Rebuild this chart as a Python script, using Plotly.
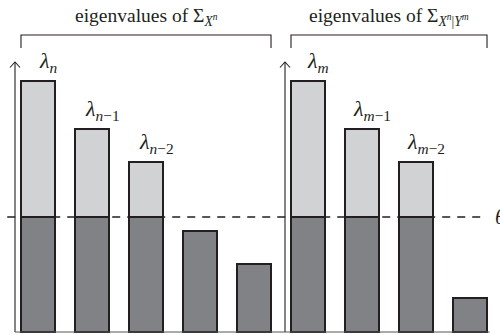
import plotly.graph_objects as go

# Eigenvalues (arbitrary units) of the two covariance matrices
theta = 11.5
left_vals = [25.1, 20.3, 17.0, 10.1, 6.8]
right_vals = [25.1, 20.3, 17.0, 3.4]
left_labels = ["<i>λ</i><sub><i>n</i></sub>",
               "<i>λ</i><sub><i>n</i>−1</sub>",
               "<i>λ</i><sub><i>n</i>−2</sub>"]
right_labels = ["<i>λ</i><sub><i>m</i></sub>",
                "<i>λ</i><sub><i>m</i>−1</sub>",
                "<i>λ</i><sub><i>m</i>−2</sub>"]
group_titles = ["eigenvalues of Σ<sub><i>X<sup>n</sup></i></sub>",
                "eigenvalues of Σ<sub><i>X<sup>n</sup></i>|<i>Y<sup>m</sup></i></sub>"]

values = left_vals + right_vals
slots = list(range(len(values)))
left_slots = slots[:len(left_vals)]
right_slots = slots[len(left_vals):]

LIGHT = "#d1d2d4"
DARK = "#808285"
INK = "#231f20"
FONT = "Liberation Serif"
BW = 0.63          # bar width in slot units
GAP = 0.111        # distance from axis to first bar

below = [min(v, theta) for v in values]
above = [v - theta if v > theta else None for v in values]

fig = go.Figure()
fig.add_trace(go.Bar(x=slots, y=below, width=BW,
                     marker=dict(color=DARK, line=dict(color=INK, width=1.3)),
                     showlegend=False, hoverinfo="skip"))
fig.add_trace(go.Bar(x=slots, y=above, width=BW,
                     marker=dict(color=LIGHT, line=dict(color=INK, width=1.3)),
                     showlegend=False, hoverinfo="skip"))

shapes = []
line = dict(color=INK, width=1.1)

# vertical axes with open arrow heads, one per group
arrow_top = 27.0
for grp in (left_slots, right_slots):
    ax = grp[0] - BW / 2 - GAP
    shapes.append(dict(type="line", x0=ax, x1=ax, y0=0, y1=arrow_top, line=line))
    shapes.append(dict(type="path",
                       path=f"M {ax-0.093} {arrow_top-0.55} L {ax} {arrow_top} L {ax+0.093} {arrow_top-0.55}",
                       line=line))

# baseline
x_start = left_slots[0] - BW / 2 - GAP
x_end = right_slots[-1] + BW / 2 + 0.05
shapes.append(dict(type="line", x0=x_start, x1=x_end, y0=0, y1=0,
                   line=dict(color="#555555", width=1)))

# threshold
shapes.append(dict(type="line", x0=-0.57, x1=right_slots[-1] + BW / 2,
                   y0=theta, y1=theta,
                   line=dict(color=INK, width=1.3, dash="8px,7px")))

# group brackets
br_y, br_tick = 29.7, 28.4
centers = []
for grp in (left_slots, right_slots):
    x0 = grp[0] - BW / 2
    x1 = grp[-1] + BW / 2
    centers.append((x0 + x1) / 2)
    shapes.append(dict(type="path",
                       path=f"M {x0} {br_tick} L {x0} {br_y} L {x1} {br_y} L {x1} {br_tick}",
                       line=line))

annotations = []
for c, t in zip(centers, group_titles):
    annotations.append(dict(x=c, y=31.5, text=t, showarrow=False,
                            xanchor="center", yanchor="middle",
                            font=dict(family=FONT, size=19.5, color=INK)))

for grp, labs, vals in ((left_slots, left_labels, left_vals),
                        (right_slots, right_labels, right_vals)):
    for s, lab, v in zip(grp, labs, vals):
        annotations.append(dict(x=s, y=v, text=lab, showarrow=False,
                                xanchor="center", yanchor="bottom",
                                xshift=10, yshift=3,
                                font=dict(family=FONT, size=22, color=INK)))

annotations.append(dict(x=0.986, xref="paper", y=theta, text="<i>θ</i>",
                        showarrow=False, xanchor="left", yanchor="middle",
                        font=dict(family=FONT, size=21, color=INK)))

fig.update_layout(
    width=500, height=335,
    margin=dict(l=0, r=0, t=0, b=0),
    paper_bgcolor="white", plot_bgcolor="white",
    barmode="stack",
    xaxis=dict(range=[-38 / 54, 462 / 54], visible=False, fixedrange=True),
    yaxis=dict(range=[-0.3, 33.2], visible=False, fixedrange=True),
    shapes=shapes, annotations=annotations,
)

fig.write_html("out.html", config={"displayModeBar": False})
